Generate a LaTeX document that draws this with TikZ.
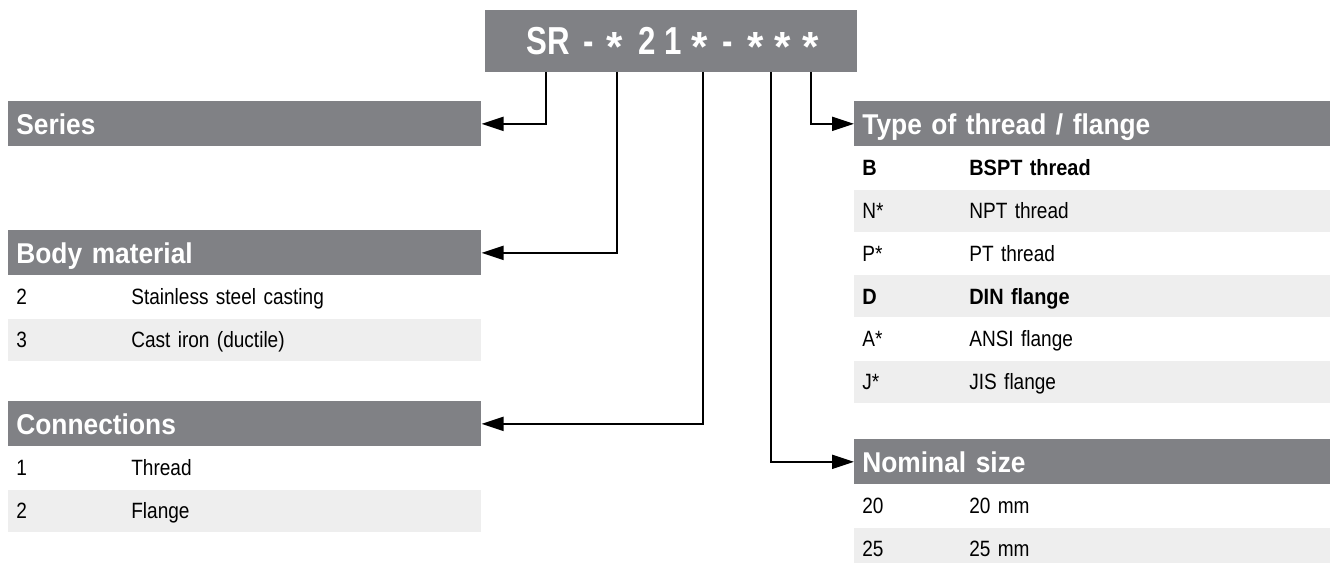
\documentclass[tikz,border=0pt]{standalone}
\usepackage{fontspec}
\setmainfont{Liberation Sans}
\newfontfamily\hdfont{Liberation Sans}[FakeStretch=0.92]
\newfontfamily\codefont{Liberation Sans}[FakeStretch=0.8]
\newfontfamily\rowfont{Liberation Sans}[FakeStretch=0.86]
\newfontfamily\rowbfont{Liberation Sans}[FakeStretch=0.9]
\usetikzlibrary{arrows.meta,positioning}

\definecolor{hdgray}{HTML}{808185}
\definecolor{rowgray}{HTML}{EEEEEE}

% code column + description in one row
\newcommand{\entry}[3]{\makebox[#1][l]{#2}#3}
% asterisk set at mid height, as in the type code
\newcommand{\st}{\raisebox{-3.8pt}{\normalfont\bfseries\fontsize{24}{26}\selectfont *}}

\tikzset{
  hdbox/.style={fill=hdgray, text=white, anchor=north west, minimum height=0.9cm,
    inner xsep=0.16cm, inner ysep=0pt, text height=11.7pt, text depth=0pt, align=left,
    font=\hdfont\bfseries\fontsize{16.3}{18}\selectfont},
  lhead/.style={hdbox, text width=9.14cm},
  rhead/.style={hdbox, text width=9.2cm},
  rowbox/.style={minimum height=0.84cm, inner xsep=0.16cm, inner ysep=0pt,
    text height=9pt, text depth=0pt, align=left,
    font=\rowfont\fontsize{12.6}{14}\selectfont},
  lrow/.style={rowbox, text width=9.14cm},
  rrow/.style={rowbox, text width=9.2cm},
  boldrow/.style={font=\rowbfont\bfseries\fontsize{12.6}{14}\selectfont},
  glyph/.style={text=white, anchor=base, inner sep=0pt,
    font=\codefont\bfseries\fontsize{22.2}{26}\selectfont},
  conn/.style={line width=0.04cm, -{Triangle[length=0.44cm, width=0.28cm]}}
}

\begin{document}
\begin{tikzpicture}[x=0.02cm, y=-0.02cm]
    \useasboundingbox (0,0) rectangle (1330,563);

    % type code
    \node[fill=hdgray, minimum width=7.44cm, minimum height=1.24cm, inner sep=0pt] (code) at (671,41) {};
    \foreach \x/\g [count=\i] in {548/SR, 589/-, 615/\st, 647/2, 673/1, 700/\st, 728/-, 756/\st, 783/\st, 811/\st} {
        \node[glyph] (g\i) at (\x,55) {\g};
    }
    \coordinate (tSeries) at (546,72);
    \coordinate (tBody) at (617,72);
    \coordinate (tConn) at (703,72);
    \coordinate (tSize) at (771,72);
    \coordinate (tThread) at (811,72);

    % left tables
    \node[lhead] (series) at (8,101) {Series};

    \node[lhead] (body) at (8,230) {Body material};
    \node[lrow, fill=white, below=0pt of body] (body1) {\entry{2.3cm}{2}{Stainless steel casting}};
    \node[lrow, fill=rowgray, below=0pt of body1] (body2) {\entry{2.3cm}{3}{Cast iron (ductile)}};

    \node[lhead] (connect) at (8,401) {Connections};
    \node[lrow, fill=white, below=0pt of connect] (connect1) {\entry{2.3cm}{1}{Thread}};
    \node[lrow, fill=rowgray, below=0pt of connect1] (connect2) {\entry{2.3cm}{2}{Flange}};

    % right tables
    \node[rhead] (thread) at (854,101) {Type of thread / flange};
    \node[rrow, boldrow, fill=white, below=0pt of thread] (thread1) {\entry{2.14cm}{B}{BSPT thread}};
    \node[rrow, fill=rowgray, below=0pt of thread1] (thread2) {\entry{2.14cm}{N*}{NPT thread}};
    \node[rrow, fill=white, below=0pt of thread2] (thread3) {\entry{2.14cm}{P*}{PT thread}};
    \node[rrow, boldrow, fill=rowgray, below=0pt of thread3] (thread4) {\entry{2.14cm}{D}{DIN flange}};
    \node[rrow, fill=white, below=0pt of thread4] (thread5) {\entry{2.14cm}{A*}{ANSI flange}};
    \node[rrow, fill=rowgray, below=0pt of thread5] (thread6) {\entry{2.14cm}{J*}{JIS flange}};

    \node[rhead] (size) at (854,439) {Nominal size};
    \node[rrow, fill=white, below=0pt of size] (size1) {\entry{2.14cm}{20}{20 mm}};
    \node[rrow, fill=rowgray, below=0pt of size1] (size2) {\entry{2.14cm}{25}{25 mm}};

    % connectors
    \draw[conn] (tSeries) |- (series.east);
    \draw[conn] (tBody) |- (body.east);
    \draw[conn] (tConn) |- (connect.east);
    \draw[conn] (tSize) |- (size.west);
    \draw[conn] (tThread) |- (thread.west);
\end{tikzpicture}
\end{document}
